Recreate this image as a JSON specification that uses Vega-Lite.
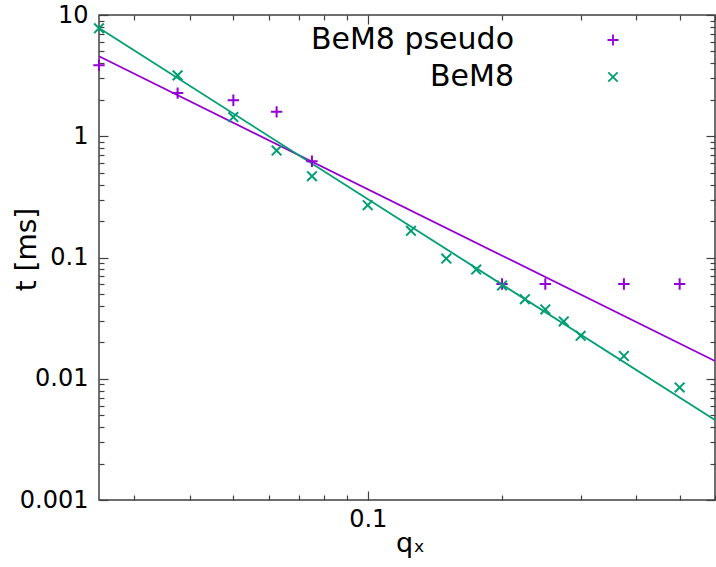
{
  "$schema": "https://vega.github.io/schema/vega-lite/v6.json",
  "width": 616,
  "height": 485,
  "autosize": {"type": "none"},
  "padding": {"left": 99, "top": 15, "right": 1, "bottom": 67},
  "background": "white",
  "config": {
    "view": {"stroke": "#404040", "strokeWidth": 1.5},
    "font": "DejaVu Sans",
    "axis": {
      "grid": false,
      "domain": false,
      "tickColor": "#404040",
      "tickWidth": 1.2,
      "labelColor": "black",
      "labelFontSize": 24,
      "labelFont": "DejaVu Sans",
      "titleFont": "DejaVu Sans",
      "titleFontWeight": "normal",
      "titleColor": "black"
    }
  },
  "datasets": {
    "points": [
      {"series": "BeM8 pseudo", "q": 0.025, "t": 3.85},
      {"series": "BeM8 pseudo", "q": 0.0375, "t": 2.27},
      {"series": "BeM8 pseudo", "q": 0.05, "t": 1.98},
      {"series": "BeM8 pseudo", "q": 0.0625, "t": 1.59},
      {"series": "BeM8 pseudo", "q": 0.075, "t": 0.622},
      {"series": "BeM8 pseudo", "q": 0.2, "t": 0.0604},
      {"series": "BeM8 pseudo", "q": 0.25, "t": 0.0604},
      {"series": "BeM8 pseudo", "q": 0.375, "t": 0.0604},
      {"series": "BeM8 pseudo", "q": 0.5, "t": 0.0604},
      {"series": "BeM8", "q": 0.025, "t": 7.77},
      {"series": "BeM8", "q": 0.0375, "t": 3.18},
      {"series": "BeM8", "q": 0.05, "t": 1.44},
      {"series": "BeM8", "q": 0.0625, "t": 0.762},
      {"series": "BeM8", "q": 0.075, "t": 0.468},
      {"series": "BeM8", "q": 0.1, "t": 0.27},
      {"series": "BeM8", "q": 0.125, "t": 0.166},
      {"series": "BeM8", "q": 0.15, "t": 0.098},
      {"series": "BeM8", "q": 0.175, "t": 0.0796},
      {"series": "BeM8", "q": 0.2, "t": 0.0588},
      {"series": "BeM8", "q": 0.225, "t": 0.0453},
      {"series": "BeM8", "q": 0.25, "t": 0.0373},
      {"series": "BeM8", "q": 0.275, "t": 0.0297},
      {"series": "BeM8", "q": 0.3, "t": 0.0226},
      {"series": "BeM8", "q": 0.375, "t": 0.0154},
      {"series": "BeM8", "q": 0.5, "t": 0.00848}
    ],
    "fits": [
      {"series": "BeM8 pseudo", "q": 0.025, "t": 4.57},
      {"series": "BeM8 pseudo", "q": 0.6, "t": 0.014},
      {"series": "BeM8", "q": 0.025, "t": 7.8},
      {"series": "BeM8", "q": 0.6, "t": 0.00456}
    ]
  },
  "resolve": {"axis": {"x": "independent", "y": "independent"}},
  "layer": [
    {
      "data": {"name": "fits"},
      "transform": [{"filter": "datum.series == 'BeM8 pseudo'"}],
      "mark": {"type": "line", "strokeWidth": 1.8, "color": "#9400D3"},
      "encoding": {
        "x": {
          "field": "q", "type": "quantitative",
          "scale": {"type": "log", "domain": [0.025, 0.6], "nice": false},
          "axis": {
            "orient": "bottom", "ticks": false,
            "values": [0.1],
            "labelExpr": "'0.1'",
            "labelPadding": 7,
            "title": "qₓ",
            "titleFontSize": 27,
            "titleBaseline": "alphabetic",
            "titleX": 311,
            "titleY": 51
          }
        },
        "y": {
          "field": "t", "type": "quantitative",
          "scale": {"type": "log", "domain": [0.001, 10], "nice": false},
          "axis": {
            "orient": "left", "ticks": false,
            "values": [0.001, 0.01, 0.1, 1, 10],
            "labelExpr": "datum.value==0.001?'0.001':datum.value==0.01?'0.01':datum.value==0.1?'0.1':datum.value==1?'1':'10'",
            "labelPadding": 11,
            "title": "t [ms]",
            "titleFontSize": 28,
            "titleBaseline": "alphabetic",
            "titleX": -64,
            "titleY": 234
          }
        }
      }
    },
    {
      "data": {"name": "fits"},
      "transform": [{"filter": "datum.series == 'BeM8'"}],
      "mark": {"type": "line", "strokeWidth": 1.8, "color": "#009E73"},
      "encoding": {
        "x": {
          "field": "q", "type": "quantitative",
          "scale": {"type": "log", "domain": [0.025, 0.6], "nice": false},
          "axis": {
            "orient": "top", "offset": -485, "title": null, "labels": false,
            "values": [0.03, 0.04, 0.05, 0.06, 0.07, 0.08, 0.09, 0.1, 0.2, 0.3, 0.4, 0.5, 0.6],
            "tickSize": {"condition": {"test": "abs(datum.value-0.1)<1e-9", "value": 9}, "value": 5}
          }
        },
        "y": {
          "field": "t", "type": "quantitative",
          "scale": {"type": "log", "domain": [0.001, 10], "nice": false},
          "axis": {
            "orient": "right", "offset": -616, "title": null, "labels": false,
            "values": [0.001,0.002,0.003,0.004,0.005,0.006,0.007,0.008,0.009,0.01,0.02,0.03,0.04,0.05,0.06,0.07,0.08,0.09,0.1,0.2,0.3,0.4,0.5,0.6,0.7,0.8,0.9,1,2,3,4,5,6,7,8,9,10],
            "tickSize": {"condition": {"test": "indexof([0.001,0.01,0.1,1,10], datum.value) >= 0", "value": 9}, "value": 5}
          }
        }
      }
    },
    {
      "data": {"name": "points"},
      "mark": {"type": "point", "filled": false, "strokeWidth": 2, "size": 130, "opacity": 1},
      "encoding": {
        "x": {
          "field": "q", "type": "quantitative",
          "scale": {"type": "log", "domain": [0.025, 0.6], "nice": false},
          "axis": {
            "orient": "bottom", "offset": -485, "title": null, "labels": false,
            "values": [0.03, 0.04, 0.05, 0.06, 0.07, 0.08, 0.09, 0.1, 0.2, 0.3, 0.4, 0.5, 0.6],
            "tickSize": {"condition": {"test": "abs(datum.value-0.1)<1e-9", "value": 9}, "value": 5}
          }
        },
        "y": {
          "field": "t", "type": "quantitative",
          "scale": {"type": "log", "domain": [0.001, 10], "nice": false},
          "axis": {
            "orient": "left", "offset": -616, "title": null, "labels": false,
            "values": [0.001,0.002,0.003,0.004,0.005,0.006,0.007,0.008,0.009,0.01,0.02,0.03,0.04,0.05,0.06,0.07,0.08,0.09,0.1,0.2,0.3,0.4,0.5,0.6,0.7,0.8,0.9,1,2,3,4,5,6,7,8,9,10],
            "tickSize": {"condition": {"test": "indexof([0.001,0.01,0.1,1,10], datum.value) >= 0", "value": 9}, "value": 5}
          }
        },
        "color": {
          "field": "series", "type": "nominal",
          "scale": {"domain": ["BeM8 pseudo", "BeM8"], "range": ["#9400D3", "#009E73"]},
          "legend": {
            "orient": "none", "legendX": 499, "legendY": 10, "title": null,
            "labelAlign": "right", "labelOffset": -114, "labelFontSize": 30, "labelLimit": 400,
            "labelColor": "black", "symbolSize": 121, "symbolStrokeWidth": 1.8, "rowPadding": 7, "padding": 0
          }
        },
        "shape": {
          "field": "series", "type": "nominal",
          "scale": {"domain": ["BeM8 pseudo", "BeM8"], "range": ["M-1,0L1,0M0,-1L0,1", "M-0.85,-0.85L0.85,0.85M-0.85,0.85L0.85,-0.85"]}
        }
      }
    }
  ]
}
